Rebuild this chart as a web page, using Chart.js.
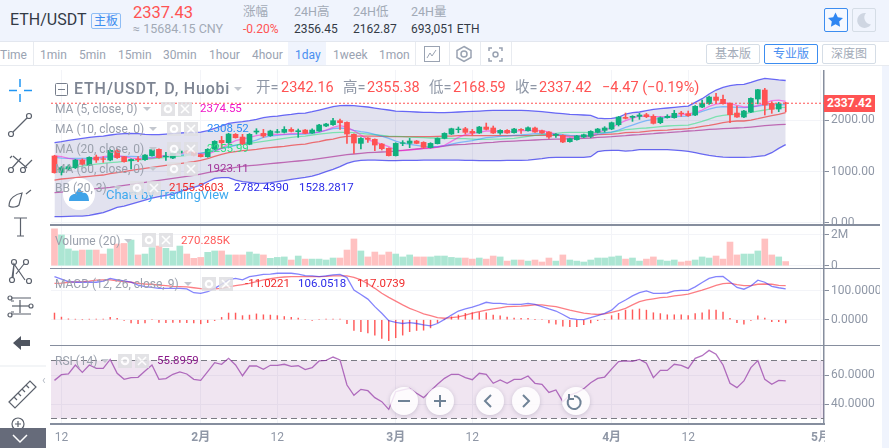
<!DOCTYPE html>
<html>
<head>
<meta charset="utf-8">
<title>ETH/USDT</title>
<script src="https://cdn.jsdelivr.net/npm/chart.js@4/dist/chart.umd.min.js"></script>
<style>
html, body { margin: 0; padding: 0; background: #fff; overflow: hidden; }
body { width: 889px; height: 448px; position: relative; font-family: Roboto, 'Noto Sans CJK SC', sans-serif; }
canvas { position: absolute; left: 51px; }
.t { position: absolute; white-space: nowrap; line-height: 1; }
.r { color: #ff5353; }
.g { color: #8f97a6; }
.box { position: absolute; }
.leg { position: absolute; white-space: nowrap; line-height: 1; font-size: 12px; color: #9aa0ac; }
.val { position: absolute; white-space: nowrap; line-height: 1; font-size: 11.5px; }
.car { position: absolute; width: 0; height: 0; border-left: 4px solid transparent; border-right: 4px solid transparent; border-top: 4px solid #c3c7cf; }
.ib { position: absolute; width: 14px; height: 14px; background: #dfdfe2; opacity: .85; }
.ib svg { left: 0; top: 0; }
.tool { position: absolute; font-size: 12px; color: #9aa3b2; line-height: 1; top: 49px; white-space: nowrap; }
.btn { position: absolute; top: 44px; height: 18px; border: 1px solid #d5dde6; border-radius: 2px; font-size: 12px; line-height: 18px; text-align: center; color: #a3abb8; width: 52px; }
.circle { position: absolute; width: 28px; height: 28px; border-radius: 50%; top: 387px; background: rgba(255,255,255,.82); box-shadow: 0 1px 4px rgba(80,80,110,.25); }
.sep { position: absolute; background: #868e9e; }
svg { position: absolute; overflow: visible; }
</style>
</head>
<body>

<!-- header -->
<div class="box" style="left:0;top:0;width:889px;height:41px;background:#f0f4fd;border-bottom:1px solid #e3e7ef"></div>
<div class="t" style="left:10px;top:12px;font-size:16px;color:#333a45">ETH/USDT</div>
<div class="t" style="left:91px;top:13px;width:28px;height:14px;border:1px solid #8fbdf5;border-radius:2px;color:#3c8df0;font-size:12px;line-height:14px;text-align:center">主板</div>
<div class="t r" style="left:133px;top:5px;font-size:16.5px">2337.43</div>
<div class="t" style="left:133px;top:23px;font-size:12.5px;color:#a2aab6">≈ 15684.15 CNY</div>
<div class="t" style="left:243px;top:6px;font-size:12.5px;color:#a2aab6">涨幅</div>
<div class="t r" style="left:243px;top:23px;font-size:12px">-0.20%</div>
<div class="t" style="left:294px;top:6px;font-size:12.5px;color:#a2aab6">24H高</div>
<div class="t" style="left:294px;top:23px;font-size:12px;color:#333a45">2356.45</div>
<div class="t" style="left:353px;top:6px;font-size:12.5px;color:#a2aab6">24H低</div>
<div class="t" style="left:353px;top:23px;font-size:12px;color:#333a45">2162.87</div>
<div class="t" style="left:411px;top:6px;font-size:12.5px;color:#a2aab6">24H量</div>
<div class="t" style="left:411px;top:23px;font-size:12px;color:#333a45">693,051 ETH</div>
<div class="box" style="left:824px;top:8px;width:22px;height:22px;border:1px solid #3c8df0;border-radius:2px;background:#f5f8ff"></div>
<svg style="left:826px;top:10px" width="20" height="20" viewBox="0 0 20 20"><path d="M9.5 2.5l2.3 4.8 5.2.7-3.8 3.6.9 5.2-4.6-2.5-4.6 2.5.9-5.2L2 8l5.2-.7z" fill="#2f86f2"/></svg>
<div class="box" style="left:852px;top:8px;width:22px;height:22px;border:1px solid #d5dde6;border-radius:2px"></div>
<svg style="left:853px;top:9px" width="22" height="22" viewBox="0 0 22 22"><path d="M13 4a7.5 7.5 0 1 0 5 11.500a7 7 0 0 1-5-11.500z" fill="#cfd6e2"/></svg>

<!-- interval row -->
<div class="box" style="left:0;top:42px;width:889px;height:23px;background:#fff;border-bottom:1px solid #e8ebf0"></div>
<div class="box" style="left:288px;top:42px;width:38px;height:23px;background:#f0f4fd"></div>
<div class="box" style="left:33px;top:42px;width:1px;height:23px;background:#e8ebf0"></div>
<div class="box" style="left:415px;top:42px;width:1px;height:23px;background:#e8ebf0"></div>
<div class="box" style="left:449px;top:42px;width:1px;height:23px;background:#e8ebf0"></div>
<div class="box" style="left:480px;top:42px;width:1px;height:23px;background:#e8ebf0"></div>
<div class="box" style="left:511px;top:42px;width:1px;height:23px;background:#e8ebf0"></div>
<div class="tool" style="left:0">Time</div>
<div class="tool" style="left:40px">1min</div>
<div class="tool" style="left:79px">5min</div>
<div class="tool" style="left:118px">15min</div>
<div class="tool" style="left:163px">30min</div>
<div class="tool" style="left:209px">1hour</div>
<div class="tool" style="left:252px">4hour</div>
<div class="tool" style="left:295px;color:#4a8ff0">1day</div>
<div class="tool" style="left:333px">1week</div>
<div class="tool" style="left:379px">1mon</div>
<svg style="left:424px;top:46px" width="16" height="16"><rect x=".5" y=".5" width="15" height="15" fill="none" stroke="#9aa3b2"/><path d="M3 12l3-5 2 3 4-6" fill="none" stroke="#9aa3b2"/></svg>
<svg style="left:456px;top:46px" width="16" height="16"><path d="M8 .5l7 4v7l-7 4-7-4v-7z" fill="none" stroke="#9aa3b2" stroke-width="1.500"/><circle cx="8" cy="8" r="3" fill="none" stroke="#9aa3b2" stroke-width="1.500"/></svg>
<svg style="left:488px;top:47px" width="15" height="15"><path d="M1 4V1h3M11 1h3v3M14 11v3h-3M4 14H1v-3" fill="none" stroke="#9aa3b2" stroke-width="1.500"/><circle cx="7.500" cy="7.500" r="2.500" fill="none" stroke="#9aa3b2" stroke-width="1.500"/></svg>
<div class="btn" style="left:706px">基本版</div>
<div class="btn" style="left:764px;border-color:#3c8df0;color:#4a8ff0">专业版</div>
<div class="btn" style="left:822px">深度图</div>

<!-- right strip -->
<div class="box" style="left:882px;top:66px;width:7px;height:382px;background:#f0f4fd"></div>

<!-- chart panes -->
<canvas id="pricePane" width="829" height="155" style="top:70px"></canvas>
<canvas id="volumePane" width="829" height="43" style="top:225px"></canvas>
<canvas id="macdPane" width="829" height="77" style="top:268px"></canvas>
<canvas id="rsiPane" width="829" height="103" style="top:345px"></canvas>

<!-- pane borders -->
<div class="sep" style="left:50px;top:224px;width:830px;height:1.500px"></div>
<div class="sep" style="left:50px;top:267.500px;width:830px;height:1.500px"></div>
<div class="sep" style="left:50px;top:344.500px;width:830px;height:1.500px"></div>
<div class="sep" style="left:50px;top:423px;width:775px;height:1.500px"></div>
<div class="box" style="left:825px;top:424px;width:57px;height:24px;background:#fff"></div>

<!-- last price label -->
<div class="box" style="left:824px;top:95px;width:51px;height:17px;background:#ff5353;color:#fff;font-size:12px;font-weight:700;line-height:17px;text-align:center">2337.42</div>

<!-- main legend -->
<svg style="left:55px;top:83px" width="13" height="13"><rect x=".5" y=".5" width="12" height="12" rx="1" fill="none" stroke="#777e8c"/><path d="M3 6.500h7" stroke="#777e8c"/></svg>
<div class="t" style="left:74px;top:81px;font-size:16px;font-weight:500;letter-spacing:.8px;color:#7d8492">ETH/USDT, D, Huobi</div>
<div class="car" style="left:234px;top:87px"></div>
<div class="t g" style="left:256px;top:81px;font-size:14.5px">开=</div>
<div class="t r" style="left:281px;top:81px;font-size:14.5px">2342.16</div>
<div class="t g" style="left:343px;top:81px;font-size:14.5px">高=</div>
<div class="t r" style="left:367px;top:81px;font-size:14.5px">2355.38</div>
<div class="t g" style="left:429px;top:81px;font-size:14.5px">低=</div>
<div class="t r" style="left:453px;top:81px;font-size:14.5px">2168.59</div>
<div class="t g" style="left:515px;top:81px;font-size:14.5px">收=</div>
<div class="t r" style="left:539px;top:81px;font-size:14.5px">2337.42</div>
<div class="t r" style="left:602px;top:81px;font-size:14.5px">−4.47 (−0.19%)</div>

<!-- watermark -->
<div class="box" style="left:63px;top:178px;width:32px;height:32px;border-radius:50%;background:#fff"></div>
<svg style="left:68px;top:186px" width="22" height="16"><path d="M1 15c0-5 3-7 6-7l4-6 4 5c3-1 6 2 6 8z" fill="#3fa3e8"/></svg>
<div class="t" style="left:106px;top:188px;font-size:13px;color:#3fa9ee">Chart by TradingView</div>

<!-- study legends -->
<div class="leg" style="left:55px;top:103px">MA (5, close, 0)</div>
<div class="car" style="left:143px;top:107px"></div>
<div class="val" style="left:200px;top:103px;color:#f016c8">2374.55</div>
<div class="leg" style="left:55px;top:123px">MA (10, close, 0)</div>
<div class="car" style="left:149px;top:127px"></div>
<div class="val" style="left:207px;top:123px;color:#2e8cf5">2308.52</div>
<div class="leg" style="left:55px;top:143px">MA (20, close, 0)</div>
<div class="car" style="left:149px;top:147px"></div>
<div class="val" style="left:207px;top:143px;color:#2fe07f">2255.99</div>
<div class="leg" style="left:55px;top:163px">MA (60, close, 0)</div>
<div class="car" style="left:149px;top:167px"></div>
<div class="val" style="left:207px;top:163px;color:#a3389c">1923.11</div>
<div class="leg" style="left:55px;top:182px">BB (20, 3)</div>
<div class="car" style="left:114px;top:186px"></div>
<div class="val" style="left:169px;top:182px;color:#f02a2a">2155.3603</div>
<div class="val" style="left:234px;top:182px;color:#2b2be8">2782.4390</div>
<div class="val" style="left:299px;top:182px;color:#2b2be8">1528.2817</div>

<div class="leg" style="left:55px;top:235px">Volume (20)</div>
<div class="car" style="left:124px;top:239px"></div>
<div class="val" style="left:181px;top:235px;color:#ff5a5a">270.285K</div>
<div class="leg" style="left:55px;top:278px">MACD (12, 26, close, 9)</div>
<div class="car" style="left:184px;top:282px"></div>
<div class="val" style="left:245px;top:278px;color:#f02a2a">-11.0221</div>
<div class="val" style="left:298px;top:278px;color:#2b2be8">106.0518</div>
<div class="val" style="left:357px;top:278px;color:#f02a2a">117.0739</div>
<div class="leg" style="left:55px;top:355px">RSI (14)</div>
<div class="car" style="left:101px;top:359px"></div>
<div class="val" style="left:157px;top:355px;color:#8a1a8a">55.8959</div>

<!-- study buttons, gear and close -->
<div class="ib" style="left:161px;top:102px"></div><div class="ib" style="left:178px;top:102px"></div>
<div class="ib" style="left:167px;top:122px"></div><div class="ib" style="left:184px;top:122px"></div>
<div class="ib" style="left:167px;top:142px"></div><div class="ib" style="left:184px;top:142px"></div>
<div class="ib" style="left:167px;top:162px"></div><div class="ib" style="left:184px;top:162px"></div>
<div class="ib" style="left:130px;top:181px"></div><div class="ib" style="left:147px;top:181px"></div>
<div class="ib" style="left:142px;top:233px"></div><div class="ib" style="left:159px;top:233px"></div>
<div class="ib" style="left:202px;top:277px"></div><div class="ib" style="left:219px;top:277px"></div>
<div class="ib" style="left:118px;top:354px"></div><div class="ib" style="left:135px;top:354px"></div>

<!-- navigation buttons -->
<div class="circle" style="left:390px"></div>
<div class="circle" style="left:426px"></div>
<div class="circle" style="left:476px"></div>
<div class="circle" style="left:512px"></div>
<div class="circle" style="left:562px"></div>
<svg style="left:390px;top:387px" width="200" height="28" viewBox="0 0 200 28" fill="none" stroke="#6f8296" stroke-width="2">
  <path d="M8 14h12M44 14h12M50 8v12M101 8l-6 6 6 6M133 8l6 6-6 6"/>
  <path d="M184 9a6.500 6.500 0 1 1-5 2.500M179 7v5h5"/>
</svg>

<!-- left drawing tools -->
<svg style="left:0;top:66px" width="46" height="382" fill="none" stroke="#5b616c" stroke-width="1.200">
  <path d="M20 13v8M20 28v8M9 24.500h8M24 24.500h8" stroke="#2196f3" stroke-width="1.500"/>
  <circle cx="11" cy="68" r="2.500"/><circle cx="29" cy="50" r="2.500"/><path d="M13 66l14-14"/>
  <circle cx="11" cy="104" r="2.500"/><circle cx="23" cy="104" r="2.500"/><path d="M12 102l9-10M13 90l14 12M24 102l8-8M10 92l2-2"/>
  <path d="M9 140c0-8 7-12 13-13l-3 12c-2 2-7 3-10 1zM26 128l5-4"/>
  <path d="M14 152h13M20.500 152v18M17 170h7"/>
  <circle cx="12" cy="214" r="2.500"/><circle cx="29" cy="215" r="2.500"/><circle cx="14" cy="196" r="2.500"/><circle cx="26" cy="196" r="2.500"/><path d="M13 212l1-14 11 16M14 198l-2 14M16 208l8-10"/>
  <path d="M11 232h20M11 248h20M11 235h3M20 234v13M11 246h3"/>
  <circle cx="10" cy="232" r="2"/><circle cx="10" cy="249" r="2"/><circle cx="31" cy="240" r="2"/><path d="M12 240h17"/>
  <path d="M13 277l8-7v4h9v6h-9v4z" fill="#4f5560" stroke="none"/>
  <path d="M0 300h46" stroke="#e8ebf0"/>
  <path d="M9 336l21-21 6 6-21 21zM14 331l3 3M18 327l3 3M22 323l3 3M26 319l3 3"/>
  <circle cx="18" cy="358" r="6"/><path d="M15 358h6M18 355v6M22 362l5 5"/>
</svg>
<div class="t" style="left:42px;top:374px;font-size:12px;color:#b6bcc6">‹</div>
<div class="box" style="left:0;top:428px;width:46px;height:20px;background:#666b7a"></div>
<svg style="left:0;top:428px" width="46" height="20"><path d="M13 7l7 7 7-7" fill="none" stroke="#fff" stroke-width="1.500"/></svg>

<script>
// one day per category, Jan 11 to May 1
var days = [];
for (var d = 0; d < 111; d++) {
    days.push(d);
}
var tickDays = [1, 21, 32, 49, 60, 80, 91, 110];
var tickNames = ['12', '2月', '12', '3月', '12', '4月', '12', '5月'];

var opens = [
    1305, 985, 1050, 1076, 1226, 1128, 1285, 1252, 1226, 1409,
    1292, 1213, 1246, 1233, 1311, 1435, 1292, 1265, 1363, 1402,
    1376, 1331, 1292, 1442, 1611, 1566, 1729, 1676, 1533, 1774,
    1748, 1703, 1768, 1768, 1826, 1781, 1813, 1755, 1794, 1892,
    1918, 1996, 1963, 1729, 1552, 1657, 1631, 1539, 1455, 1311,
    1552, 1552, 1598, 1572, 1468, 1546, 1650, 1735, 1820, 1839,
    1787, 1755, 1872, 1853, 1755, 1807, 1761, 1826, 1800, 1853,
    1800, 1774, 1709, 1709, 1585, 1624, 1676, 1689, 1768, 1807,
    1833, 1918, 2061, 2061, 2081, 2113, 2081, 1957, 2055, 2055,
    2146, 2133, 2107, 2263, 2329, 2459, 2414, 2335, 2146, 2068,
    2166, 2420, 2596, 2335, 2224, 2342.16
];
var closes = [
    978, 1076, 1096, 1226, 1142, 1279, 1226, 1239, 1415, 1272,
    1194, 1239, 1233, 1324, 1429, 1272, 1305, 1357, 1402, 1363,
    1318, 1292, 1435, 1592, 1566, 1735, 1663, 1539, 1729, 1794,
    1696, 1794, 1781, 1826, 1787, 1800, 1748, 1813, 1911, 1931,
    1996, 1957, 1735, 1559, 1650, 1631, 1520, 1448, 1311, 1552,
    1565, 1598, 1552, 1474, 1552, 1650, 1748, 1839, 1833, 1768,
    1755, 1872, 1826, 1755, 1807, 1755, 1833, 1813, 1859, 1774,
    1755, 1676, 1729, 1579, 1644, 1696, 1722, 1787, 1833, 1853,
    1957, 2068, 2042, 2081, 2107, 2074, 1944, 2055, 2081, 2140,
    2133, 2094, 2277, 2335, 2459, 2394, 2329, 2113, 2068, 2185,
    2433, 2603, 2303, 2218, 2329, 2337.42
];
var highs = [
    1320, 1100, 1130, 1240, 1250, 1290, 1324, 1292, 1430, 1442,
    1300, 1252, 1292, 1335, 1440, 1445, 1376, 1370, 1442, 1415,
    1390, 1340, 1450, 1605, 1689, 1750, 1745, 1729, 1745, 1839,
    1826, 1810, 1826, 1879, 1859, 1833, 1825, 1839, 1925, 1945,
    2042, 2029, 1975, 1740, 1665, 1665, 1640, 1550, 1465, 1565,
    1605, 1650, 1610, 1585, 1565, 1660, 1760, 1850, 1872, 1866,
    1826, 1885, 1950, 1892, 1820, 1820, 1845, 1840, 1875, 1872,
    1810, 1785, 1745, 1720, 1655, 1710, 1735, 1800, 1845, 1879,
    1970, 2080, 2146, 2095, 2140, 2140, 2113, 2070, 2113, 2198,
    2179, 2185, 2290, 2400, 2479, 2531, 2498, 2345, 2283, 2200,
    2445, 2609, 2629, 2368, 2355, 2355.38
];
var lows = [
    970, 933, 1020, 1060, 1130, 1120, 1180, 1180, 1210, 1260,
    1185, 1050, 1194, 1220, 1300, 1265, 1220, 1255, 1350, 1350,
    1310, 1285, 1280, 1430, 1455, 1550, 1655, 1530, 1525, 1735,
    1670, 1690, 1755, 1755, 1775, 1670, 1740, 1745, 1785, 1880,
    1905, 1826, 1552, 1357, 1442, 1572, 1409, 1422, 1305, 1305,
    1507, 1468, 1545, 1455, 1460, 1540, 1640, 1725, 1761, 1735,
    1709, 1745, 1815, 1745, 1729, 1745, 1750, 1748, 1790, 1765,
    1745, 1650, 1670, 1565, 1575, 1615, 1665, 1663, 1755, 1774,
    1820, 1892, 2029, 1983, 2022, 2055, 1931, 1937, 2045, 2045,
    2081, 2081, 2095, 2250, 2316, 2335, 2320, 1957, 2060, 2055,
    2155, 2322, 2107, 2140, 2172, 2168.59
];

var ma5 = [
    1305, 1292, 1259, 1239, 1226, 1233, 1265, 1292, 1305, 1311,
    1292, 1265, 1252, 1252, 1265, 1292, 1318, 1344, 1357, 1370,
    1370, 1344, 1344, 1396, 1461, 1539, 1605, 1637, 1670, 1702,
    1722, 1735, 1729, 1729, 1742, 1748, 1748, 1761, 1774, 1813,
    1866, 1898, 1872, 1800, 1716, 1624, 1579, 1539, 1487, 1422,
    1409, 1422, 1435, 1448, 1455, 1481, 1513, 1592, 1670, 1722,
    1748, 1774, 1794, 1794, 1781, 1774, 1787, 1800, 1800, 1807,
    1800, 1774, 1735, 1689, 1670, 1670, 1683, 1709, 1761, 1813,
    1859, 1937, 1996, 2048, 2087, 2081, 2074, 2074, 2074, 2094,
    2113, 2127, 2153, 2205, 2277, 2322, 2342, 2335, 2296, 2264,
    2264, 2290, 2342, 2387, 2400, 2374.55
];
var ma10 = [
    1279, 1265, 1259, 1259, 1259, 1259, 1265, 1272, 1285, 1292,
    1298, 1298, 1292, 1279, 1279, 1292, 1305, 1311, 1324, 1337,
    1350, 1363, 1376, 1409, 1448, 1481, 1513, 1546, 1579, 1618,
    1670, 1696, 1709, 1722, 1729, 1729, 1735, 1748, 1774, 1807,
    1839, 1853, 1839, 1807, 1781, 1761, 1729, 1696, 1650, 1598,
    1559, 1533, 1513, 1494, 1487, 1487, 1507, 1539, 1566, 1585,
    1605, 1637, 1663, 1676, 1689, 1696, 1709, 1716, 1729, 1742,
    1742, 1735, 1729, 1722, 1709, 1702, 1696, 1709, 1729, 1755,
    1774, 1813, 1866, 1911, 1957, 1996, 2022, 2042, 2061, 2074,
    2081, 2087, 2127, 2179, 2224, 2257, 2270, 2264, 2257, 2250,
    2264, 2283, 2303, 2309, 2303, 2308.52
];
var ma20 = [
    1031, 1050, 1070, 1089, 1109, 1128, 1148, 1161, 1174, 1187,
    1200, 1213, 1226, 1239, 1252, 1265, 1279, 1292, 1305, 1318,
    1337, 1357, 1389, 1429, 1461, 1500, 1520, 1539, 1552, 1572,
    1592, 1611, 1631, 1650, 1670, 1683, 1696, 1716, 1735, 1748,
    1761, 1768, 1768, 1761, 1748, 1735, 1722, 1709, 1696, 1689,
    1683, 1676, 1670, 1663, 1657, 1657, 1650, 1650, 1644, 1644,
    1637, 1631, 1631, 1637, 1637, 1644, 1650, 1670, 1689, 1709,
    1722, 1735, 1748, 1761, 1768, 1768, 1768, 1761, 1761, 1768,
    1774, 1794, 1820, 1833, 1846, 1853, 1866, 1879, 1892, 1898,
    1905, 1911, 1944, 1983, 2029, 2074, 2100, 2113, 2120, 2127,
    2159, 2185, 2205, 2231, 2250, 2255.99
];
var ma60 = [
    587, 600, 613, 626, 639, 652, 665, 678, 691, 711,
    731, 750, 770, 789, 809, 828, 848, 868, 887, 907,
    926, 952, 978, 1005, 1031, 1057, 1083, 1102, 1115, 1128,
    1141, 1155, 1168, 1181, 1194, 1207, 1220, 1233, 1252, 1272,
    1292, 1311, 1331, 1344, 1357, 1370, 1376, 1383, 1389, 1402,
    1415, 1429, 1442, 1455, 1468, 1481, 1500, 1520, 1526, 1533,
    1546, 1552, 1566, 1572, 1585, 1592, 1598, 1605, 1611, 1618,
    1624, 1631, 1637, 1637, 1644, 1644, 1650, 1657, 1670, 1676,
    1683, 1696, 1702, 1716, 1722, 1735, 1742, 1755, 1761, 1774,
    1781, 1794, 1800, 1813, 1826, 1833, 1839, 1846, 1853, 1859,
    1872, 1885, 1898, 1911, 1918, 1923.11
];
var bbBasis = [
    835, 855, 868, 881, 894, 907, 920, 933, 959, 978,
    998, 1024, 1044, 1063, 1083, 1102, 1122, 1135, 1155, 1174,
    1194, 1220, 1252, 1298, 1337, 1370, 1389, 1409, 1422, 1435,
    1455, 1468, 1481, 1494, 1513, 1526, 1539, 1566, 1585, 1618,
    1637, 1670, 1689, 1696, 1696, 1696, 1696, 1689, 1683, 1683,
    1683, 1683, 1683, 1683, 1683, 1689, 1696, 1696, 1702, 1702,
    1702, 1702, 1702, 1702, 1702, 1702, 1702, 1702, 1702, 1709,
    1709, 1709, 1709, 1702, 1696, 1696, 1696, 1696, 1722, 1729,
    1735, 1742, 1761, 1768, 1774, 1787, 1800, 1807, 1813, 1826,
    1833, 1839, 1859, 1885, 1905, 1931, 1957, 1976, 1990, 1990,
    2009, 2035, 2068, 2094, 2120, 2155.36
];
var bbUpper = [
    1566, 1585, 1611, 1631, 1650, 1670, 1683, 1696, 1716, 1735,
    1742, 1748, 1742, 1729, 1722, 1722, 1735, 1748, 1755, 1761,
    1768, 1774, 1800, 1846, 1892, 1944, 1963, 1976, 1996, 2022,
    2055, 2074, 2087, 2107, 2120, 2140, 2146, 2172, 2205, 2237,
    2270, 2290, 2296, 2290, 2277, 2264, 2244, 2224, 2205, 2185,
    2179, 2172, 2166, 2159, 2159, 2153, 2153, 2159, 2166, 2172,
    2179, 2185, 2192, 2198, 2198, 2198, 2198, 2198, 2192, 2185,
    2172, 2159, 2146, 2133, 2120, 2113, 2107, 2100, 2048, 2035,
    2042, 2061, 2127, 2153, 2166, 2192, 2218, 2231, 2244, 2257,
    2270, 2283, 2355, 2427, 2518, 2596, 2648, 2681, 2701, 2707,
    2746, 2792, 2824, 2811, 2795, 2782.44
];
var bbLower = [
    117, 117, 124, 130, 130, 144, 170, 196, 248, 300,
    326, 365, 404, 444, 483, 509, 535, 561, 607, 652,
    691, 737, 802, 868, 881, 881, 835, 802, 789, 776,
    770, 783, 802, 822, 848, 868, 887, 913, 952, 998,
    1044, 1096, 1161, 1200, 1220, 1226, 1226, 1220, 1213, 1213,
    1220, 1220, 1220, 1226, 1226, 1226, 1226, 1226, 1226, 1220,
    1220, 1213, 1213, 1213, 1213, 1220, 1220, 1220, 1226, 1239,
    1252, 1272, 1279, 1279, 1279, 1279, 1279, 1292, 1389, 1409,
    1415, 1415, 1402, 1409, 1429, 1429, 1429, 1429, 1429, 1422,
    1409, 1396, 1370, 1344, 1318, 1298, 1285, 1279, 1279, 1279,
    1285, 1298, 1311, 1370, 1455, 1528.28
];

// millions
var volumes = [
    2.4, 2.0, 1.09, 0.96, 1.02, 1.02, 1.02, 0.76, 1.09, 1.41,
    1.45, 1.67, 0.7, 0.76, 1.17, 1.28, 1.13, 0.96, 1.28, 0.76,
    0.48, 0.54, 0.87, 0.96, 0.96, 0.7, 0.7, 0.7, 0.89, 0.76,
    0.7, 0.48, 0.54, 0.57, 0.37, 0.63, 0.43, 0.43, 0.43, 0.37,
    0.5, 0.5, 1.02, 1.74, 0.96, 0.57, 0.89, 0.7, 0.89, 0.76,
    0.57, 0.7, 0.57, 0.57, 0.57, 0.63, 0.63, 0.54, 0.5, 0.5,
    0.43, 0.5, 0.43, 0.63, 0.57, 0.3, 0.37, 0.37, 0.3, 0.37,
    0.24, 0.5, 0.3, 0.7, 0.37, 0.3, 0.24, 0.37, 0.5, 0.5,
    0.57, 0.63, 0.43, 0.5, 0.3, 0.43, 0.57, 0.37, 0.3, 0.37,
    0.24, 0.3, 0.37, 0.57, 0.5, 0.63, 0.43, 1.54, 0.7, 0.76,
    0.76, 0.96, 1.74, 0.7, 0.57, 0.27
];

var macdLine = [
    148, 140, 131, 129, 129, 129, 129, 133, 142, 137,
    134, 129, 119, 114, 111, 108, 108, 108, 108, 106,
    93, 91, 97, 108, 122, 137, 142, 137, 148, 152,
    156, 157, 160, 160, 160, 157, 152, 151, 148, 151,
    154, 156, 145, 102, 87, 71, 45, 22, -3, -9,
    -13, -10, -13, -18, -21, -13, 1, 16, 30, 37,
    43, 51, 60, 56, 56, 54, 53, 53, 56, 53,
    45, 37, 30, 18, 5, 1, 0, 7, 14, 22,
    33, 55, 68, 82, 93, 99, 91, 91, 92, 99,
    101, 101, 113, 128, 142, 148, 149, 131, 111, 105,
    116, 136, 129, 115, 110, 106.05
];
var macdSignal = [
    125, 126, 129, 130, 131, 133, 136, 137, 137, 134,
    131, 129, 125, 123, 122, 119, 117, 115, 114, 113,
    110, 107, 105, 106, 108, 113, 117, 121, 125, 131,
    137, 141, 145, 147, 148, 148, 148, 148, 148, 149,
    151, 151, 151, 146, 137, 124, 108, 91, 77, 64,
    51, 39, 30, 20, 14, 7, 5, 7, 10, 16,
    23, 28, 33, 37, 41, 45, 46, 47, 49, 51,
    51, 48, 45, 39, 33, 28, 23, 20, 18, 20,
    25, 31, 39, 51, 62, 68, 72, 76, 78, 82,
    85, 88, 95, 102, 110, 118, 124, 126, 121, 117,
    117, 122, 123, 122, 118, 117.07
];
var macdHist = [
    23, 9, 3, 2, 0, 2, 2, 2, 8, 5,
    -2, -11, -14, -11, 0, -9, -10, -9, -9, -10,
    -11, -14, -10, -3, 8, 23, 23, 14, 16, 20,
    17, 16, 14, 11, 8, 6, 0, -2, 0, 2,
    2, 2, -14, -37, -41, -45, -53, -64, -72, -62,
    -53, -41, -37, -36, -28, -10, 0, 10, 16, 22,
    24, 25, 24, 16, 13, 9, 6, 5, 5, 1,
    0, -11, -15, -22, -24, -24, -17, -11, -3, 0,
    14, 22, 33, 34, 37, 33, 24, 21, 17, 17,
    17, 14, 21, 24, 34, 33, 26, 5, -10, -15,
    -2, 13, 6, -7, -7, -11.02
];

var rsi = [
    56.3, 60.2, 60.7, 66.9, 61.8, 66.9, 64.6, 64.6, 70.8, 61.2,
    57, 58.2, 58.4, 62.8, 66.9, 57, 57.5, 60.5, 62.1, 60.7,
    57, 56.3, 62.3, 68.5, 67.4, 71.5, 66.9, 59.5, 66.2, 66.2,
    63.9, 66.7, 66.7, 67.4, 66, 66.4, 63.7, 65.1, 69.7, 70.1,
    72.4, 70.4, 53.1, 46, 50.1, 49.2, 44.4, 41.6, 36.3, 48.5,
    49.7, 50.8, 47.4, 44.4, 49, 53.6, 57.7, 60.5, 60.5, 58.2,
    56.8, 61.2, 60.5, 54.3, 56.6, 54.3, 57, 57, 59.3, 54.3,
    53.6, 48, 49.7, 41.6, 46.2, 47.8, 50.6, 54.7, 57.7, 58.6,
    64.1, 69.2, 69.7, 69.4, 70.8, 68.1, 58.2, 63.2, 63.2, 67.4,
    66.7, 64.6, 71.5, 73.3, 77, 74.3, 66.9, 54.3, 51.3, 55.9,
    65.1, 69.9, 57, 53.6, 56.3, 55.9
];

var priceTicks = [0, 1000, 2000];
var volumeTicks = [0, 2];
var macdTicks = [0, 100];
var rsiTicks = [40, 60];
var rsiBand = [30, 70];
var lastPrice = 2337.42;

var upColor = '#0fb07e';
var downColor = '#ff5353';
var gridColor = '#f3f4f8';
var axisColor = '#868e9e';
var tickColor = '#8f97a6';

function isUp(i) {
    return closes[i] >= opens[i];
}

function xAxis(showLabels) {
    return {
        offset: true,
        afterFit: function(scale) {
            scale.height = showLabels ? 25 : 0;
            scale.paddingLeft = 0;
            scale.paddingRight = 0;
        },
        border: { display: false },
        grid: {
            offset: false,
            drawTicks: false,
            color: function(ctx) {
                return tickDays.indexOf(ctx.index) >= 0 ? gridColor : 'rgba(0,0,0,0)';
            }
        },
        ticks: {
            display: showLabels,
            autoSkip: false,
            maxRotation: 0,
            padding: 8,
            color: tickColor,
            font: function(ctx) {
                var name = tickNames[tickDays.indexOf(ctx.index)];
                return { family: "Roboto, 'Noto Sans CJK SC'", size: 12, weight: name && name !== '12' ? 'bold' : 'normal' };
            },
            callback: function(value, index) {
                var pos = tickDays.indexOf(index);
                return pos >= 0 ? tickNames[pos] : '';
            }
        }
    };
}

function yAxis(min, max, values, format) {
    return {
        position: 'right',
        min: min,
        max: max,
        afterFit: function(scale) {
            scale.width = 56;
            // labels must not pull the plot area away from the pane edges
            scale.paddingTop = 0;
            scale.paddingBottom = 0;
        },
        afterBuildTicks: function(scale) {
            scale.ticks = values.map(function(v) { return { value: v }; });
        },
        border: { color: axisColor, width: 1.5 },
        grid: { color: gridColor, tickColor: axisColor, tickLength: 5 },
        ticks: {
            padding: 2,
            color: tickColor,
            font: { family: 'Roboto', size: 12 },
            callback: format
        }
    };
}

function lineSet(values, color, extra) {
    return Object.assign({
        type: 'line',
        data: values,
        borderColor: color,
        borderWidth: 1.3,
        pointRadius: 0,
        tension: 0,
        fill: false,
        order: 1
    }, extra || {});
}

function baseOptions(showLabels, y) {
    return {
        responsive: false,
        animation: false,
        events: [],
        layout: { padding: 0 },
        plugins: { legend: { display: false }, tooltip: { enabled: false } },
        scales: { x: xAxis(showLabels), y: y }
    };
}

// Price pane
var lastPriceLine = {
    id: 'lastPriceLine',
    afterDatasetsDraw: function(chart) {
        var y = chart.scales.y.getPixelForValue(lastPrice);
        var c = chart.ctx;
        c.save();
        c.strokeStyle = downColor;
        c.setLineDash([2, 2]);
        c.beginPath();
        c.moveTo(chart.chartArea.left, y);
        c.lineTo(chart.chartArea.right, y);
        c.stroke();
        c.restore();
    }
};

new Chart(document.getElementById('pricePane'), {
    type: 'bar',
    data: {
        labels: days,
        datasets: [
            {
                data: opens.map(function(o, i) { return [o, closes[i]]; }),
                backgroundColor: opens.map(function(o, i) { return isUp(i) ? upColor : downColor; }),
                barThickness: 5,
                grouped: false,
                order: -2
            },
            {
                data: lows.map(function(l, i) { return [l, highs[i]]; }),
                backgroundColor: lows.map(function(l, i) { return isUp(i) ? upColor : downColor; }),
                barThickness: 1,
                grouped: false,
                order: -1
            },
            lineSet(ma5, 'rgba(255,20,220,0.5)', { order: 0 }),
            lineSet(ma10, 'rgba(30,144,255,0.5)', { order: 1 }),
            lineSet(ma20, 'rgba(0,225,100,0.45)', { order: 2 }),
            lineSet(ma60, 'rgba(165,25,140,0.6)', { order: 3 }),
            lineSet(bbBasis, 'rgba(240,30,30,0.6)', { order: 4 }),
            lineSet(bbUpper, 'rgba(45,45,245,0.7)', { order: 5, fill: '+1', backgroundColor: 'rgba(50,50,140,0.14)' }),
            lineSet(bbLower, 'rgba(45,45,245,0.7)', { order: 6 })
        ]
    },
    options: baseOptions(false, yAxis(-45, 2988, priceTicks, function(v) { return v.toFixed(2); })),
    plugins: [lastPriceLine]
});

// Volume pane
new Chart(document.getElementById('volumePane'), {
    type: 'bar',
    data: {
        labels: days,
        datasets: [{
            data: volumes,
            backgroundColor: volumes.map(function(v, i) { return isUp(i) ? '#ace6d3' : '#ffc1c1'; }),
            barThickness: 6
        }]
    },
    options: baseOptions(false, yAxis(-0.15, 2.65, volumeTicks, function(v) { return v === 0 ? '0' : v + 'M'; }))
});

// MACD pane
new Chart(document.getElementById('macdPane'), {
    type: 'bar',
    data: {
        labels: days,
        datasets: [
            lineSet(macdLine, 'rgba(50,50,250,0.6)', { order: 0 }),
            lineSet(macdSignal, 'rgba(250,40,50,0.6)', { order: 1 }),
            { data: macdHist, backgroundColor: '#ff5a5a', barThickness: 0.8, order: 2 }
        ]
    },
    options: baseOptions(false, yAxis(-87, 178, macdTicks, function(v) { return v.toFixed(4); }))
});

// RSI pane
var rsiBands = {
    id: 'rsiBands',
    beforeDatasetsDraw: function(chart) {
        var area = chart.chartArea;
        var top = chart.scales.y.getPixelForValue(rsiBand[1]);
        var bottom = chart.scales.y.getPixelForValue(rsiBand[0]);
        var c = chart.ctx;
        c.save();
        c.fillStyle = 'rgba(128,40,140,0.12)';
        c.fillRect(area.left, top, area.right - area.left, bottom - top);
        c.strokeStyle = '#7a7a84';
        c.setLineDash([6, 4]);
        [top, bottom].forEach(function(y) {
            c.beginPath();
            c.moveTo(area.left, y);
            c.lineTo(area.right, y);
            c.stroke();
        });
        c.restore();
    }
};

new Chart(document.getElementById('rsiPane'), {
    type: 'line',
    data: {
        labels: days,
        datasets: [lineSet(rsi, 'rgba(140,40,160,0.65)')]
    },
    options: baseOptions(true, yAxis(26.9, 80.7, rsiTicks, function(v) { return v.toFixed(4); })),
    plugins: [rsiBands]
});

// white gear and cross on the study buttons
document.querySelectorAll('.ib').forEach(function(el, i) {
    el.innerHTML = i % 2 === 0
        ? '<svg width="14" height="14"><circle cx="7" cy="7" r="3.2" fill="none" stroke="#fff" stroke-width="2.2"/></svg>'
        : '<svg width="14" height="14"><path d="M3 3l8 8M11 3l-8 8" stroke="#fff" stroke-width="1.6"/></svg>';
});
</script>
</body>
</html>
